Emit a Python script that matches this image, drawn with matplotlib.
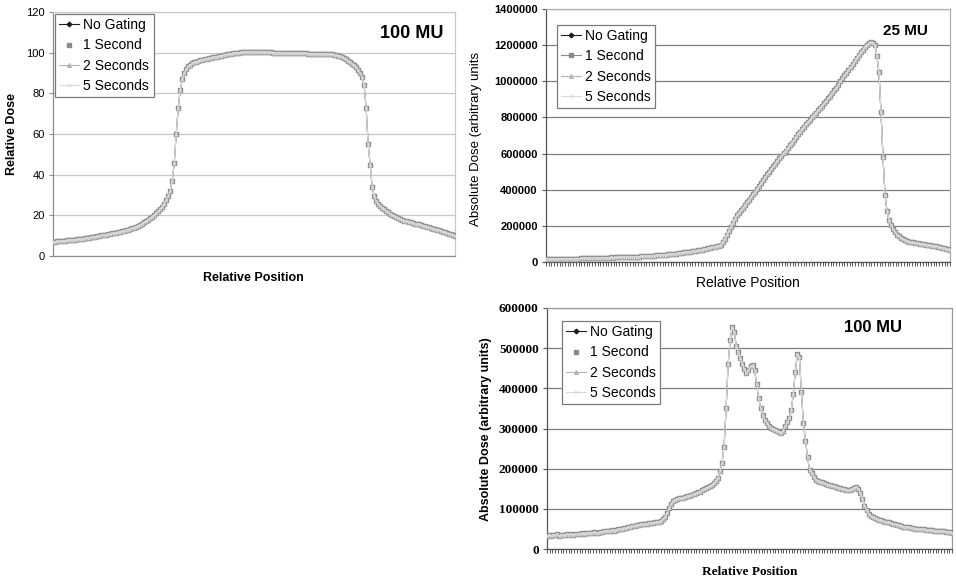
import matplotlib
matplotlib.use("Agg")
import matplotlib.pyplot as plt
import numpy as np

plt.rcParams['font.family'] = ['Liberation Sans', 'DejaVu Sans']

W, H = 956, 580

# legend entries, same four gating settings in every panel
series_names = ["No Gating", "1 Second", "2 Seconds", "5 Seconds"]

# panel 1: relative dose profile, 100 MU (all four series overlap)
rel_dose_100mu = [
    7.0, 7.1, 7.2, 7.3, 7.4, 7.5, 7.6, 7.7, 7.8, 7.9, 8.0, 8.1, 8.2, 8.3, 8.4, 8.6, 8.7, 8.9, 9.0, 9.2,
    9.4, 9.5, 9.7, 9.9, 10.1, 10.3, 10.5, 10.7, 10.9, 11.1, 11.3, 11.5, 11.7, 11.9, 12.2, 12.4, 12.7, 13.0, 13.3, 13.6,
    14.0, 14.4, 14.9, 15.4, 15.9, 16.5, 17.1, 17.8, 18.5, 19.3, 20.2, 21.0, 22.0, 23.0, 24.2, 25.8, 27.5, 29.5, 32, 37,
    45.5, 60, 73, 81.5, 87, 90, 92, 93.2, 94, 94.7, 95.2, 95.6, 96, 96.3, 96.6, 96.9, 97.1, 97.3, 97.5, 97.7,
    97.9, 98.1, 98.3, 98.5, 98.7, 98.9, 99.1, 99.3, 99.5, 99.7, 99.8, 99.9, 100.0, 100.1, 100.2, 100.3, 100.3, 100.4, 100.4, 100.5,
    100.5, 100.4, 100.4, 100.3, 100.3, 100.2, 100.2, 100.1, 100.1, 100.0, 100.0, 99.9, 99.9, 99.9, 99.8, 99.8, 99.8, 99.8, 99.7, 99.7,
    99.7, 99.7, 99.7, 99.6, 99.6, 99.6, 99.5, 99.5, 99.5, 99.4, 99.4, 99.4, 99.3, 99.3, 99.3, 99.2, 99.2, 99.1, 99.1, 99.0,
    98.8, 98.5, 98.2, 97.8, 97.3, 96.7, 96.0, 95.3, 94.5, 93.7, 92.8, 91.5, 90, 88, 84, 73, 55, 45, 34, 29.5,
    27, 25.5, 24.7, 23.8, 23, 22.2, 21.5, 20.8, 20.2, 19.6, 19.0, 18.5, 18.0, 17.7, 17.4, 17.1, 16.8, 16.5, 16.2, 15.9,
    15.7, 15.5, 15.2, 15.0, 14.7, 14.4, 14.1, 13.8, 13.5, 13.2, 12.9, 12.6, 12.3, 12.0, 11.6, 11.2, 10.9, 10.6, 10.3, 10.0,
]

# panel 2: absolute dose, 25 MU, in thousands of arbitrary units
abs_dose_25mu_k = [
    15, 16, 15, 16, 16, 17, 16, 17, 17, 18, 17, 18, 18, 19, 18, 19, 19, 20, 20, 20,
    21, 20, 21, 21, 22, 22, 23, 22, 23, 23, 24, 24, 25, 24, 25, 25, 26, 26, 27, 26,
    27, 27, 28, 28, 29, 29, 30, 31, 31, 32, 33, 33, 34, 35, 36, 37, 37, 38, 39, 40,
    42, 44, 45, 46, 47, 49, 50, 51, 53, 54, 56, 57, 59, 61, 63, 65, 67, 69, 72, 74,
    77, 79, 81, 84, 87, 91, 96, 110, 130, 150, 172, 195, 218, 240, 258, 272, 285, 300, 315, 330,
    345, 360, 375, 390, 405, 420, 437, 454, 470, 485, 500, 515, 530, 545, 560, 575, 588, 601, 616, 631,
    646, 661, 676, 691, 706, 721, 736, 749, 762, 775, 788, 801, 814, 827, 840, 853, 866, 878, 892, 906,
    920, 935, 950, 965, 980, 1000, 1017, 1033, 1048, 1063, 1078, 1093, 1110, 1130, 1145, 1160, 1175, 1190, 1200, 1210,
    1216, 1212, 1200, 1140, 1050, 830, 580, 370, 280, 230, 205, 182, 165, 152, 142, 133, 126, 120, 115, 112,
    110, 108, 106, 104, 102, 100, 98, 96, 94, 92, 90, 88, 86, 84, 82, 79, 76, 73, 70, 67,
]

# panel 3: absolute dose, 100 MU, in thousands of arbitrary units
abs_dose_100mu_k = [
    32, 36, 33, 35, 34, 37, 33, 35, 36, 34, 37, 36, 38, 35, 37, 38, 37, 39, 38, 40,
    39, 41, 40, 42, 41, 40, 42, 43, 44, 45, 44, 46, 47, 46, 48, 49, 50, 51, 52, 53,
    55, 56, 57, 58, 60, 60, 61, 62, 62, 63, 64, 65, 65, 66, 67, 68, 70, 74, 80, 90,
    101, 112, 120, 123, 125, 126, 127, 128, 130, 131, 133, 135, 137, 139, 141, 143, 146, 149, 151, 154,
    157, 160, 165, 170, 178, 195, 215, 255, 350, 460, 520, 553, 540, 505, 490, 475, 460, 448, 437, 445,
    455, 458, 445, 410, 375, 350, 333, 321, 313, 307, 302, 299, 297, 295, 292, 289, 295, 305, 315, 325,
    345, 385, 440, 485, 478, 390, 313, 270, 230, 197, 188, 180, 173, 170, 168, 166, 164, 162, 160, 159,
    158, 156, 155, 153, 152, 150, 149, 148, 147, 148, 150, 153, 155, 150, 140, 124, 108, 96, 87, 82,
    79, 77, 75, 73, 71, 70, 68, 67, 66, 64, 63, 62, 60, 59, 58, 56, 55, 54, 54, 53,
    52, 51, 51, 50, 49, 49, 48, 48, 47, 47, 46, 46, 45, 45, 44, 44, 43, 43, 42, 41,
]

yticks_rel = [0, 20, 40, 60, 80, 100, 120]
yticks_25mu = [0, 200000, 400000, 600000, 800000, 1000000, 1200000, 1400000]
yticks_100mu = [0, 100000, 200000, 300000, 400000, 500000, 600000]


def px(x, y):
    return x / W, 1 - y / H


def box(l, t, r, b):
    return [l / W, 1 - b / H, (r - l) / W, (b - t) / H]


def draw_series(ax, y, ms, line_on_1s):
    x = np.arange(len(y))
    ax.plot(x, y, color='#1e1e1e', lw=0.8, marker='D', ms=ms * 0.7, label=series_names[0], zorder=3)
    ax.plot(x, y, color='#8a8a8a', lw=0.8 if line_on_1s else 0, marker='s', ms=ms,
            mec='#8a8a8a', label=series_names[1], zorder=4)
    ax.plot(x, y, color='#b5b5b5', lw=0.8, marker='^', ms=ms * 0.8, label=series_names[2], zorder=5)
    ax.plot(x, y, color='#dadada', lw=0.8, marker='x', ms=ms * 0.8, mew=0.5, label=series_names[3], zorder=6)


def style_axes(ax, grid_col, spine_col, top_col):
    ax.grid(axis='y', color=grid_col, lw=0.9)
    ax.set_axisbelow(True)
    ax.spines['left'].set_color(spine_col)
    ax.spines['bottom'].set_color(spine_col)
    ax.spines['top'].set_color(top_col)
    ax.spines['right'].set_color(top_col)
    for s in ax.spines.values():
        s.set_linewidth(0.9)
    ax.tick_params(axis='y', length=3, color=spine_col, pad=3)


def add_legend(ax, x, y):
    leg = ax.legend(loc='upper left', bbox_to_anchor=(x, y), borderaxespad=0, fontsize=10,
                    frameon=True, fancybox=False, edgecolor='#7a7a7a', framealpha=1,
                    handlelength=1.4, handletextpad=0.35, borderpad=0.3, labelspacing=0.45,
                    markerscale=1.3)
    leg.get_frame().set_linewidth(0.9)


fig = plt.figure(figsize=(W / 100, H / 100), dpi=100)

# ---- panel 1: relative dose ----
ax1 = fig.add_axes(box(53, 12, 455, 256))
draw_series(ax1, rel_dose_100mu, 2.6, False)
ax1.set_xlim(0, len(rel_dose_100mu) - 1)
ax1.set_ylim(0, 120)
ax1.set_yticks(yticks_rel)
ax1.set_yticklabels([str(v) for v in yticks_rel], fontsize=8)
ax1.set_xticks([])
style_axes(ax1, '#c8c8c8', '#8c8c8c', '#c8c8c8')
add_legend(ax1, 0.005, 0.992)
fig.text(*px(412, 33), "100 MU", fontsize=13, fontweight='bold', ha='center', va='center')
fig.text(*px(12, 134), "Relative Dose", fontsize=9, fontweight='bold', rotation=90, ha='center', va='center')
fig.text(*px(253, 278), "Relative Position", fontsize=9, fontweight='bold', ha='center', va='center')

# ---- panel 2: absolute dose, 25 MU ----
ax2 = fig.add_axes(box(546, 9, 950, 262))
draw_series(ax2, [v * 1000 for v in abs_dose_25mu_k], 2.6, True)
n2 = len(abs_dose_25mu_k)
ax2.set_xlim(0, n2 - 1)
ax2.set_ylim(0, 1400000)
ax2.set_yticks(yticks_25mu)
ax2.set_yticklabels([str(v) for v in yticks_25mu], fontsize=8, fontweight='bold')
ax2.set_xticks(np.linspace(0, n2 - 1, 150))
ax2.set_xticklabels([])
ax2.tick_params(axis='x', length=3, width=0.7, color='#555555')
style_axes(ax2, '#7f7f7f', '#555555', '#b0b0b0')
add_legend(ax2, 0.027, 0.937)
fig.text(*px(905, 31), "25 MU", fontsize=11, fontweight='bold', ha='center', va='center')
fig.text(*px(476, 139), "Absolute Dose (arbitrary units", fontsize=9.5, rotation=90, ha='center', va='center')
fig.text(*px(748, 283), "Relative Position", fontsize=10, ha='center', va='center')

# ---- panel 3: absolute dose, 100 MU ----
ax3 = fig.add_axes(box(547, 308, 952, 549))
draw_series(ax3, [v * 1000 for v in abs_dose_100mu_k], 2.6, False)
n3 = len(abs_dose_100mu_k)
ax3.set_xlim(0, n3 - 1)
ax3.set_ylim(0, 600000)
ax3.set_yticks(yticks_100mu)
ax3.set_yticklabels([str(v) for v in yticks_100mu], fontsize=9.5, fontweight='bold',
                    family='Liberation Serif')
ax3.set_xticks(np.linspace(0, n3 - 1, 150))
ax3.set_xticklabels([])
ax3.tick_params(axis='x', length=3, width=0.7, color='#555555')
style_axes(ax3, '#7f7f7f', '#555555', '#9a9a9a')
add_legend(ax3, 0.037, 0.946)
fig.text(*px(873, 328), "100 MU", fontsize=12, fontweight='bold', ha='center', va='center')
fig.text(*px(486, 429), "Absolute Dose (arbitrary units)", fontsize=9, fontweight='bold', rotation=90,
         ha='center', va='center')
fig.text(*px(750, 572), "Relative Position", fontsize=9.5, fontweight='bold', family='Liberation Serif',
         ha='center', va='center')

fig.savefig("out.png", dpi=100)
